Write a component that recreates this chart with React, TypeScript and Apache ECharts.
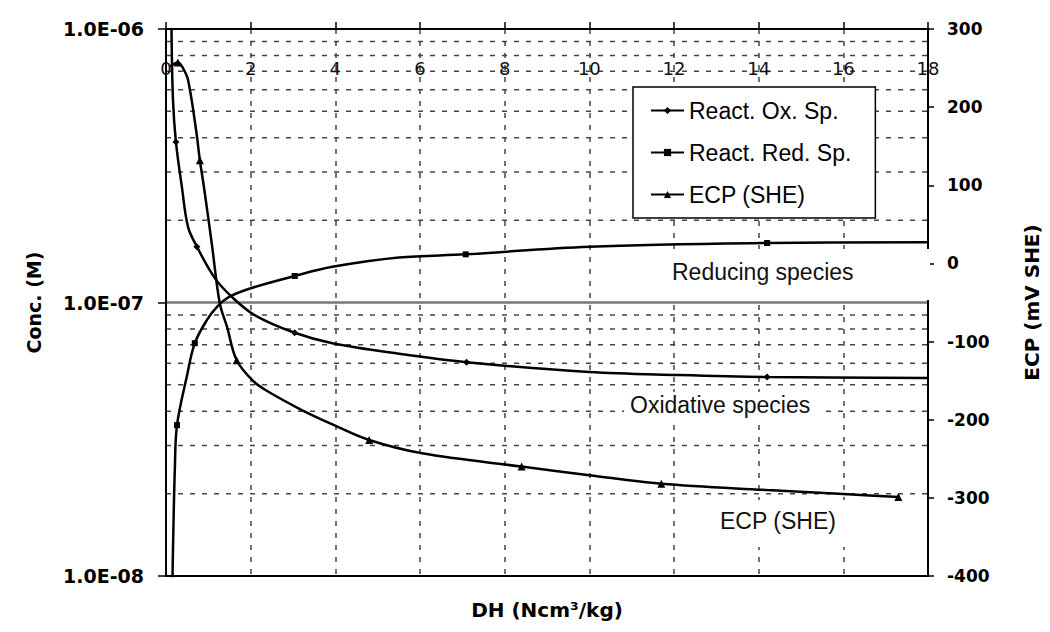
import React, { useEffect, useRef } from "react";
import * as echarts from "echarts";

// ---- data ----
const xMin = 0;
const xMax = 18;
const xInterval = 2;

const concMin = 1e-8;
const concMax = 1e-6;
const concMinorGrid = [
  2e-8, 3e-8, 4e-8, 5e-8, 6e-8, 7e-8, 8e-8, 9e-8,
  2e-7, 3e-7, 4e-7, 5e-7, 6e-7, 7e-7, 8e-7, 9e-7,
];
const concMajorGrid = [1e-7];

const ecpMin = -400;
const ecpMax = 300;
const ecpInterval = 100;

// React. Ox. Sp. (M)
const oxX = [0.13, 0.165, 0.235, 0.376, 0.52, 0.73, 1.15, 1.55, 2.09, 3.04, 3.93, 5.5, 7.1, 10.0, 12.1, 14.2, 18];
const oxY = [1.0e-6, 5.5e-7, 3.86e-7, 2.64e-7, 1.89e-7, 1.6e-7, 1.23e-7, 1.05e-7, 9.0e-8, 7.75e-8, 7.1e-8, 6.5e-8, 6.05e-8, 5.57e-8, 5.43e-8, 5.34e-8, 5.3e-8];
const oxMarked = [2, 5, 9, 12, 15];

// React. Red. Sp. (M)
const redX = [0.15, 0.165, 0.21, 0.26, 0.49, 0.68, 0.96, 1.22, 1.5, 2.02, 3.04, 3.93, 5.5, 7.08, 10.0, 14.2, 18];
const redY = [9e-9, 1.25e-8, 2.5e-8, 3.56e-8, 5.35e-8, 7.1e-8, 8.6e-8, 9.7e-8, 1.05e-7, 1.13e-7, 1.25e-7, 1.35e-7, 1.46e-7, 1.5e-7, 1.6e-7, 1.65e-7, 1.66e-7];
const redMarked = [3, 5, 10, 13, 15];

// ECP (SHE) (mV)
const ecpX = [0.1, 0.28, 0.4, 0.52, 0.71, 0.8, 0.89, 1.08, 1.27, 1.44, 1.67, 2.05, 2.38, 3.15, 3.93, 4.8, 6.05, 8.4, 10.0, 11.7, 14.2, 16.0, 17.3];
const ecpY = [252, 257, 250, 235, 171, 132, 100, 26, -51, -81, -124, -150, -163, -186, -206, -226, -243, -260, -271, -282, -290, -295, -299];
const ecpMarked = [1, 5, 10, 15, 17, 19, 22];

const seriesNames = ["React. Ox. Sp.", "React. Red. Sp.", "ECP (SHE)"];
const annotations = ["Reducing species", "Oxidative species", "ECP (SHE)"];

function build(xs: number[], ys: number[], marked: number[]) {
  return xs.map((x, i) =>
    marked.includes(i) ? { value: [x, ys[i]] } : { value: [x, ys[i]], symbol: "none" }
  );
}

const TICK_FONT = "DejaVu Sans";
const TEXT_FONT = "Liberation Sans";

export default function App() {
  const ref = useRef<HTMLDivElement>(null);

  useEffect(() => {
    if (!ref.current) return;
    const chart = echarts.init(ref.current, undefined, { renderer: "svg" });

    const lineBase = {
      type: "line",
      smooth: 0.35,
      showSymbol: true,
      lineStyle: { color: "#000", width: 2.5 },
      itemStyle: { color: "#000" },
      z: 3,
      clip: true,
    };

    const gridData = [
      ...concMinorGrid.map((v) => [xMin, v, 0]),
      ...concMajorGrid.map((v) => [xMin, v, 1]),
    ];

    const option: any = {
      animation: false,
      backgroundColor: "#fff",
      grid: { left: 166, right: 119, top: 29, bottom: 56, containLabel: false },
      legend: {
        data: seriesNames,
        orient: "vertical",
        left: 633,
        top: 87,
        padding: [12, 24, 12, 17],
        itemGap: 19,
        itemWidth: 33,
        itemHeight: 9,
        backgroundColor: "#fff",
        borderColor: "#000",
        borderWidth: 1.5,
        borderRadius: 0,
        textStyle: { fontFamily: TEXT_FONT, fontSize: 23, color: "#000" },
        z: 6,
      },
      xAxis: [
        {
          type: "value",
          position: "top",
          min: xMin,
          max: xMax,
          interval: xInterval,
          axisLine: { show: true, onZero: false, lineStyle: { color: "#000", width: 2 } },
          axisTick: { show: true, length: 7, lineStyle: { color: "#000", width: 1.5 } },
          axisLabel: {
            inside: true,
            margin: 30,
            fontFamily: TICK_FONT,
            fontSize: 18,
            color: "#111",
          },
          splitLine: {
            show: true,
            lineStyle: { type: [5, 7], color: "#444", width: 1.5 },
          },
        },
        {
          type: "value",
          position: "bottom",
          min: xMin,
          max: xMax,
          interval: xInterval,
          axisLine: { show: true, onZero: false, lineStyle: { color: "#000", width: 2 } },
          axisTick: { show: false },
          axisLabel: { show: false },
          splitLine: { show: false },
          name: "DH (Ncm³/kg)",
          nameLocation: "middle",
          nameGap: 24,
          nameTextStyle: { fontFamily: TICK_FONT, fontWeight: "bold", fontSize: 20, color: "#000" },
        },
      ],
      yAxis: [
        {
          type: "log",
          logBase: 10,
          min: concMin,
          max: concMax,
          position: "left",
          axisLine: { show: true, onZero: false, lineStyle: { color: "#000", width: 2 } },
          axisTick: { show: true, length: 8, lineStyle: { color: "#000", width: 1.5 } },
          axisLabel: {
            margin: 22,
            fontFamily: TICK_FONT,
            fontWeight: "bold",
            fontSize: 19,
            color: "#000",
            formatter: (v: number) => {
              const e = Math.round(Math.log10(v));
              return "1.0E-" + String(-e).padStart(2, "0");
            },
          },
          splitLine: { show: false },
          name: "Conc. (M)",
          nameLocation: "middle",
          nameRotate: 90,
          nameGap: 123,
          nameTextStyle: { fontFamily: TICK_FONT, fontWeight: "bold", fontSize: 19, color: "#000" },
        },
        {
          type: "value",
          min: ecpMin,
          max: ecpMax,
          interval: ecpInterval,
          position: "right",
          axisLine: { show: true, onZero: false, lineStyle: { color: "#000", width: 2 } },
          axisTick: { show: true, length: 6, lineStyle: { color: "#000", width: 1.5 } },
          axisLabel: {
            margin: 19,
            fontFamily: TICK_FONT,
            fontWeight: "bold",
            fontSize: 17,
            color: "#000",
          },
          splitLine: { show: false },
          name: "ECP (mV SHE)",
          nameLocation: "middle",
          nameRotate: 90,
          nameGap: 94,
          nameTextStyle: { fontFamily: TICK_FONT, fontWeight: "bold", fontSize: 20, color: "#000" },
        },
      ],
      series: [
        {
          name: "hgrid",
          type: "custom",
          xAxisIndex: 0,
          yAxisIndex: 0,
          silent: true,
          z: 0,
          clip: false,
          data: gridData,
          renderItem: (params: any, api: any) => {
            const v = api.value(1);
            const major = api.value(2) === 1;
            const p1 = api.coord([xMin, v]);
            const p2 = api.coord([xMax, v]);
            return {
              type: "line",
              shape: { x1: p1[0], y1: p1[1], x2: p2[0], y2: p2[1] },
              style: major
                ? { stroke: "#777", lineWidth: 2.5, fill: null }
                : { stroke: "#444", lineWidth: 1.5, lineDash: [5, 7], fill: null },
            };
          },
        },
        {
          ...lineBase,
          name: seriesNames[0],
          xAxisIndex: 0,
          yAxisIndex: 0,
          symbol: "diamond",
          symbolSize: 7,
          data: build(oxX, oxY, oxMarked),
        },
        {
          ...lineBase,
          name: seriesNames[1],
          xAxisIndex: 0,
          yAxisIndex: 0,
          symbol: "rect",
          symbolSize: 6,
          data: build(redX, redY, redMarked),
        },
        {
          ...lineBase,
          name: seriesNames[2],
          xAxisIndex: 0,
          yAxisIndex: 1,
          symbol: "triangle",
          symbolSize: 8,
          data: build(ecpX, ecpY, ecpMarked),
        },
      ],
      graphic: [
        { type: "rect", z: 1, silent: true, shape: { x: 660, y: 249, width: 270, height: 51 }, style: { fill: "#fff" } },
        { type: "rect", z: 1, silent: true, shape: { x: 624, y: 392, width: 200, height: 28 }, style: { fill: "#fff" } },
        { type: "rect", z: 1, silent: true, shape: { x: 705, y: 500, width: 145, height: 47 }, style: { fill: "#fff" } },
        {
          type: "text", z: 1, silent: true, x: 672, y: 272,
          style: { text: annotations[0], fontFamily: TEXT_FONT, fontSize: 23, fill: "#111", verticalAlign: "middle", align: "left" },
        },
        {
          type: "text", z: 1, silent: true, x: 630, y: 405,
          style: { text: annotations[1], fontFamily: TEXT_FONT, fontSize: 23, fill: "#111", verticalAlign: "middle", align: "left" },
        },
        {
          type: "text", z: 1, silent: true, x: 720, y: 521,
          style: { text: annotations[2], fontFamily: TEXT_FONT, fontSize: 23, fill: "#111", verticalAlign: "middle", align: "left" },
        },
      ],
    };

    chart.setOption(option);
    return () => chart.dispose();
  }, []);

  return (
    <div
      ref={ref}
      style={{ position: "fixed", left: 0, top: 0, width: 1050, height: 632, background: "#fff" }}
    />
  );
}
